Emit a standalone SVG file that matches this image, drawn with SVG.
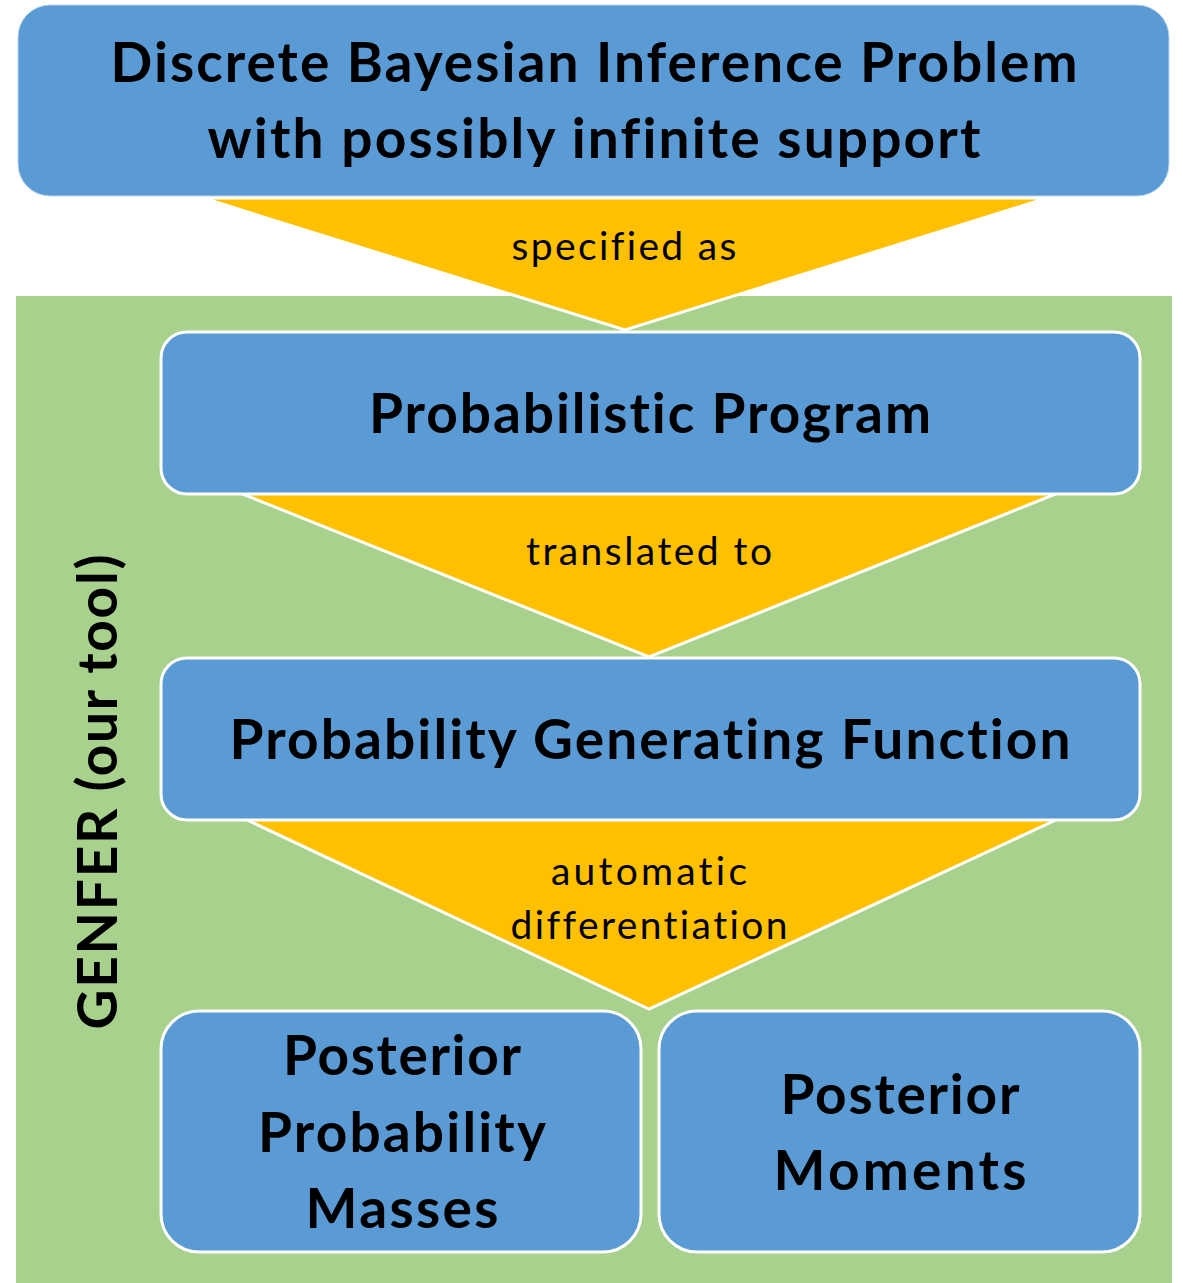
<svg xmlns="http://www.w3.org/2000/svg" width="1183" height="1283" viewBox="0 0 1183 1283">
  <style>
    .box { fill: #5B9BD5; stroke: #FFFFFF; stroke-width: 3; }
    .top { fill: #5B9BD5; stroke: #BDD7EE; stroke-width: 1; }
    .arrow { fill: #FFC000; stroke: #FFFFFF; stroke-width: 3; stroke-linejoin: miter; }
    text { font-variant-ligatures: none; }
    .big { font-family: Lato, "Open Sans", sans-serif; font-weight: 700; font-size: 55px; fill: #000000; text-anchor: middle; }
    .small { font-family: Lato, "Open Sans", sans-serif; font-weight: 400; font-size: 39px; fill: #000000; text-anchor: middle; }
  </style>

  <!-- tool area -->
  <rect id="genfer-area" x="16" y="296" width="1156" height="987" fill="#A9D18E"/>

  <!-- connectors: chevron arrows between stages -->
  <g id="connectors">
    <g id="arrow-specified">
      <polygon class="arrow" points="203,198 1047,198 625,330"/>
      <text class="small" x="624" y="260" textLength="225">specified as</text>
    </g>
    <g id="arrow-translated">
      <polygon class="arrow" points="240,493 1058,493 649,657"/>
      <text class="small" x="649" y="565" textLength="246">translated to</text>
    </g>
    <g id="arrow-autodiff">
      <polygon class="arrow" points="245,819 1058,819 649,1009"/>
      <text class="small" x="649" y="885" textLength="196">automatic</text>
      <text class="small" x="649" y="939" textLength="277">differentiation</text>
    </g>
  </g>

  <g id="problem">
    <rect class="top" x="18" y="5" width="1151" height="191" rx="32" ry="32"/>
    <text class="big" x="594" y="82" textLength="967">Discrete Bayesian Inference Problem</text>
    <text class="big" x="594" y="158" textLength="773">with possibly infinite support</text>
  </g>

  <g id="program">
    <rect class="box" x="161" y="332" width="979" height="162" rx="26" ry="26"/>
    <text class="big" x="650" y="433" textLength="562">Probabilistic Program</text>
  </g>

  <g id="pgf">
    <rect class="box" x="161" y="658" width="979" height="162" rx="26" ry="26"/>
    <text class="big" x="650" y="759" textLength="841">Probability Generating Function</text>
  </g>

  <g id="masses">
    <rect class="box" x="161" y="1011" width="480" height="241" rx="38" ry="38"/>
    <text class="big" x="402" y="1075" textLength="238">Posterior</text>
    <text class="big" x="402" y="1152" textLength="288">Probability</text>
    <text class="big" x="402" y="1228" textLength="193">Masses</text>
  </g>

  <g id="moments">
    <rect class="box" x="659" y="1011" width="481" height="241" rx="38" ry="38"/>
    <text class="big" x="900" y="1114" textLength="239">Posterior</text>
    <text class="big" x="900" y="1190" textLength="253">Moments</text>
  </g>

  <g id="genfer-label">
    <text class="big" transform="translate(117,792) rotate(-90)" x="0" y="0" textLength="475">GENFER (our tool)</text>
  </g>
</svg>
